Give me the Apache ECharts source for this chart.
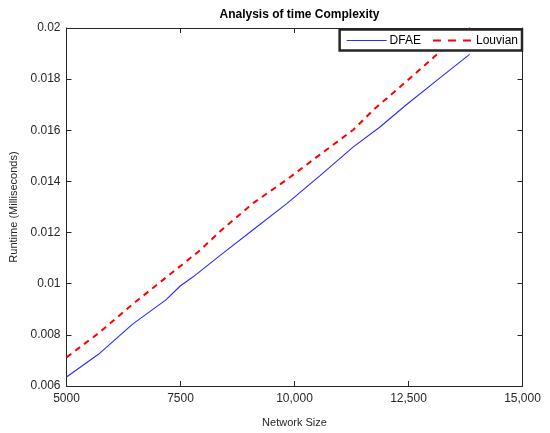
<!DOCTYPE html>
<html>
<head>
<meta charset="utf-8">
<script src="https://cdn.jsdelivr.net/npm/echarts@6/dist/echarts.min.js"></script>
<style>html,body{margin:0;padding:0;background:#fff}#c{width:550px;height:433px}</style>
</head>
<body>
<div id="c"></div>
<script>
var dfaeX = [5000, 5700, 6450, 7180, 7500, 7770, 8370, 9100, 9830, 10560, 11290, 11860, 12460, 13190, 13840];
var dfaeY = [0.00635, 0.00724, 0.00842, 0.00937, 0.00992, 0.01026, 0.01111, 0.01212, 0.01313, 0.01423, 0.01535, 0.01611, 0.01701, 0.01805, 0.01897];
var louvX = [5000, 5720, 6450, 7180, 7910, 8400, 9100, 9830, 10560, 11290, 11730, 12460, 13120, 13850];
var louvY = [0.00712, 0.00809, 0.0092, 0.01024, 0.01128, 0.01210, 0.01316, 0.01407, 0.01505, 0.01602, 0.01680, 0.01792, 0.01896, 0.0200];
var xTickValues = [5000, 7500, 10000, 12500, 15000];
var xTickLabels = ['5000', '7500', '10,000', '12,500', '15,000'];
var yTickValues = [0.006, 0.008, 0.010, 0.012, 0.014, 0.016, 0.018, 0.020];
var yTickLabels = ['0.006', '0.008', '0.01', '0.012', '0.014', '0.016', '0.018', '0.02'];

function pairs(xs, ys) { return xs.map(function (x, i) { return [x, ys[i]]; }); }
function xLabel(v) { for (var i = 0; i < xTickValues.length; i++) if (Math.abs(xTickValues[i] - v) < 1) return xTickLabels[i]; return ''; }
function yLabel(v) { for (var i = 0; i < yTickValues.length; i++) if (Math.abs(yTickValues[i] - v) < 1e-6) return yTickLabels[i]; return ''; }

var axisColor = '#262626';
var font = 'Liberation Sans, Arial, sans-serif';
var blue = '#2a2aff';
var red = '#ff0000';
// legend icons: corner specks fix the box so the stroke keeps its thickness
var solidIcon = 'path://M0,0h0.01v0.01h-0.01z M39.99,9.99h0.01v0.01h-0.01z M0,4.4h40v1.2h-40z';
var dashIcon = 'path://M0,0h0.01v0.01h-0.01z M39.99,9.99h0.01v0.01h-0.01z M0,4h8v2h-8z M15,4h8v2h-8z M30,4h8v2h-8z';

var chart = echarts.init(document.getElementById('c'), null, { renderer: 'canvas' });
var baseX = {
  type: 'value', min: 5000, max: 15000, interval: 2500,
  axisLine: { show: true, onZero: false, lineStyle: { color: axisColor, width: 1 } },
  axisTick: { show: true, inside: true, length: 5, lineStyle: { color: axisColor } },
  splitLine: { show: false }
};
var baseY = {
  type: 'value', min: 0.006, max: 0.02, interval: 0.002,
  axisLine: { show: true, onZero: false, lineStyle: { color: axisColor, width: 1 } },
  axisTick: { show: true, inside: true, length: 5, lineStyle: { color: axisColor } },
  splitLine: { show: false }
};
chart.setOption({
  animation: false,
  backgroundColor: '#ffffff',
  textStyle: { fontFamily: font },
  title: {
    text: 'Analysis of time Complexity', left: 294.5, top: 4, textAlign: 'center',
    textStyle: { fontFamily: font, fontSize: 12, fontWeight: 'bold', color: '#000' }
  },
  grid: { left: 66.5, right: 27.5, top: 28, bottom: 46, containLabel: false },
  legend: {
    right: 28, top: 29.5, orient: 'horizontal',
    backgroundColor: '#fff', borderColor: '#262626', borderWidth: 2.5, borderRadius: 0,
    padding: [5, 4, 4, 7], itemWidth: 40, itemHeight: 10, itemGap: 12,
    textStyle: { fontFamily: font, fontSize: 12, color: '#000', padding: [0, 0, 0, -2] },
    data: [
      { name: 'DFAE', icon: solidIcon, itemStyle: { color: blue } },
      { name: 'Louvian', icon: dashIcon, itemStyle: { color: red } }
    ]
  },
  xAxis: [
    Object.assign({}, baseX, {
      position: 'bottom', name: 'Network Size', nameLocation: 'middle', nameGap: 31,
      nameTextStyle: { fontFamily: font, fontSize: 11, color: axisColor },
      axisLabel: { show: true, fontFamily: font, fontSize: 12, color: axisColor, margin: 7, formatter: xLabel }
    }),
    Object.assign({}, baseX, { position: 'top', axisLabel: { show: false } })
  ],
  yAxis: [
    Object.assign({}, baseY, {
      position: 'left', name: 'Runtime (Milliseconds)', nameLocation: 'middle', nameGap: 46,
      nameTextStyle: { fontFamily: font, fontSize: 11, color: axisColor },
      axisLabel: { show: true, fontFamily: font, fontSize: 12, color: axisColor, margin: 6, formatter: yLabel }
    }),
    Object.assign({}, baseY, { position: 'right', axisLabel: { show: false } })
  ],
  series: [
    {
      name: 'DFAE', type: 'line', data: pairs(dfaeX, dfaeY), showSymbol: false, symbol: 'none',
      lineStyle: { color: blue, width: 1.1 }, itemStyle: { color: blue }, z: 2
    },
    {
      name: 'Louvian', type: 'line', data: pairs(louvX, louvY), showSymbol: false, symbol: 'none',
      lineStyle: { color: red, width: 2, type: [6, 5] }, itemStyle: { color: red }, z: 2
    }
  ]
});
</script>
</body>
</html>
